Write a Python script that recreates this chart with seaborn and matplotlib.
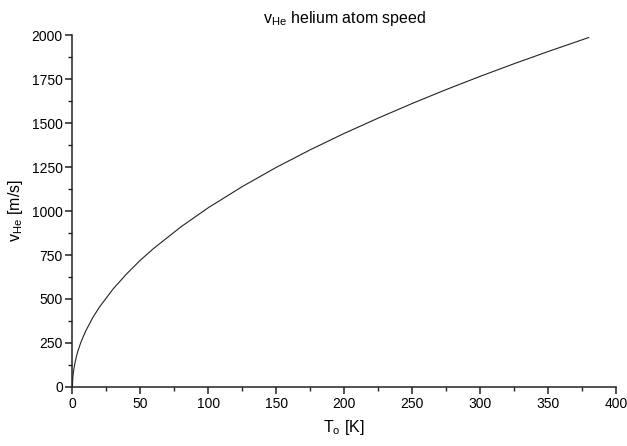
import matplotlib
matplotlib.use("Agg")
import matplotlib.pyplot as plt
import seaborn as sns
import pandas as pd
from matplotlib.ticker import MultipleLocator

# Temperature T_o [K] and helium atom speed v_He [m/s]
temperature = [0, 0.1, 0.25, 0.5, 1, 2, 3, 4, 6, 8, 10, 15, 20, 30, 40, 50, 60,
               80, 100, 125, 150, 175, 200, 225, 250, 275, 300, 325, 350, 380]
speed = [0, 32, 51, 72, 102, 144, 176, 204, 250, 288, 322, 395, 456, 558, 644,
         721, 789, 911, 1019, 1139, 1248, 1348, 1441, 1528, 1611, 1690, 1765,
         1837, 1906, 1986]

df = pd.DataFrame({"T": temperature, "v": speed})

sns.set_style("ticks")
plt.rcParams["font.family"] = ["Liberation Sans", "DejaVu Sans"]
plt.rcParams["mathtext.fontset"] = "custom"
plt.rcParams["mathtext.rm"] = "Liberation Sans"
plt.rcParams["mathtext.it"] = "Liberation Sans"
plt.rcParams["text.color"] = "black"
plt.rcParams["axes.labelcolor"] = "black"
plt.rcParams["xtick.color"] = "black"
plt.rcParams["ytick.color"] = "black"

fig = plt.figure(figsize=(6.27, 4.46), dpi=100)
ax = fig.add_axes([0.1156, 0.1323, 0.8669, 0.7892])

sns.lineplot(data=df, x="T", y="v", ax=ax, color="#222222", linewidth=0.8)

ax.set_xlim(0, 400)
ax.set_ylim(0, 2000)
ax.xaxis.set_major_locator(MultipleLocator(50))
ax.xaxis.set_minor_locator(MultipleLocator(25))
ax.yaxis.set_major_locator(MultipleLocator(250))
ax.yaxis.set_minor_locator(MultipleLocator(125))

sns.despine(ax=ax)
for side in ("left", "bottom"):
    ax.spines[side].set_linewidth(1.1)
    ax.spines[side].set_color("#222222")
ax.tick_params(which="major", direction="out", length=5, width=1.1,
               labelsize=10, color="#222222", pad=2)
ax.tick_params(which="minor", direction="out", length=3, width=1.0,
               color="#222222")

ax.set_xlabel(r"T$_\mathrm{o}$ [K]", fontsize=11.5, labelpad=5)
ax.set_ylabel(r"v$_\mathrm{He}$ [m/s]", fontsize=11.5, labelpad=5)
ax.set_title(r"v$_\mathrm{He}$ helium atom speed", fontsize=11.5, pad=9)

fig.savefig("out.png", dpi=100)
